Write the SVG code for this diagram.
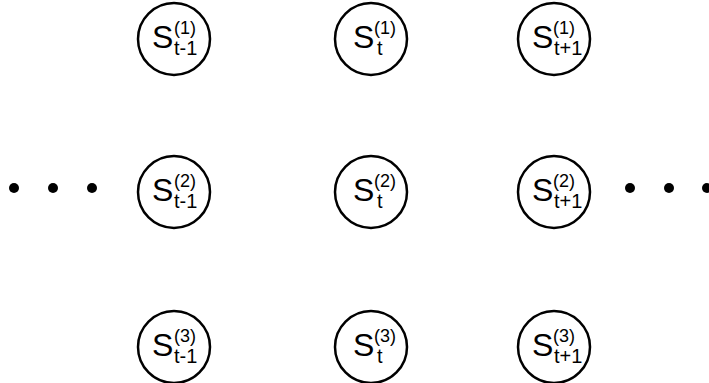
<svg xmlns="http://www.w3.org/2000/svg" width="709" height="383" viewBox="0 0 709 383">
<style>
.n{fill:#fff;stroke:#000;stroke-width:2.5}
.S{font-family:"Liberation Sans",Arial,sans-serif;font-size:32px;fill:#000}
.sp{font-family:"Liberation Sans",Arial,sans-serif;font-size:18px;fill:#000}
.sb{font-family:"Liberation Sans",Arial,sans-serif;font-size:20px;fill:#000}
.d{fill:#000}
</style>
<rect width="709" height="383" fill="#fff"/>
<g id="connectors"></g>
<g id="dots-left"><circle class="d" cx="14" cy="188" r="5"/><circle class="d" cx="53" cy="188" r="5"/><circle class="d" cx="92" cy="188" r="5"/></g>
<g id="dots-right"><circle class="d" cx="630" cy="188" r="5"/><circle class="d" cx="669" cy="188" r="5"/><circle class="d" cx="707" cy="188" r="5"/></g>
<g id="s1tm1"><circle class="n" cx="174" cy="39" r="36"/><text class="S" x="152" y="48">S</text><text class="sp" x="174" y="34">(1)</text><text class="sb" x="174" y="55">t-1</text></g>
<g id="s1t"><circle class="n" cx="371" cy="39" r="36"/><text class="S" x="353" y="48">S</text><text class="sp" x="374" y="34">(1)</text><text class="sb" x="377" y="55">t</text></g>
<g id="s1tp1"><circle class="n" cx="554" cy="39" r="36"/><text class="S" x="532" y="48">S</text><text class="sp" x="553" y="34">(1)</text><text class="sb" x="554" y="55">t+1</text></g>
<g id="s2tm1"><circle class="n" cx="174" cy="192" r="36"/><text class="S" x="152" y="201">S</text><text class="sp" x="174" y="187">(2)</text><text class="sb" x="174" y="208">t-1</text></g>
<g id="s2t"><circle class="n" cx="371" cy="192" r="36"/><text class="S" x="353" y="201">S</text><text class="sp" x="374" y="187">(2)</text><text class="sb" x="377" y="208">t</text></g>
<g id="s2tp1"><circle class="n" cx="554" cy="192" r="36"/><text class="S" x="532" y="201">S</text><text class="sp" x="553" y="187">(2)</text><text class="sb" x="554" y="208">t+1</text></g>
<g id="s3tm1"><circle class="n" cx="174" cy="347" r="36"/><text class="S" x="152" y="356">S</text><text class="sp" x="174" y="342">(3)</text><text class="sb" x="174" y="363">t-1</text></g>
<g id="s3t"><circle class="n" cx="371" cy="347" r="36"/><text class="S" x="353" y="356">S</text><text class="sp" x="374" y="342">(3)</text><text class="sb" x="377" y="363">t</text></g>
<g id="s3tp1"><circle class="n" cx="554" cy="347" r="36"/><text class="S" x="532" y="356">S</text><text class="sp" x="553" y="342">(3)</text><text class="sb" x="554" y="363">t+1</text></g>
</svg>
